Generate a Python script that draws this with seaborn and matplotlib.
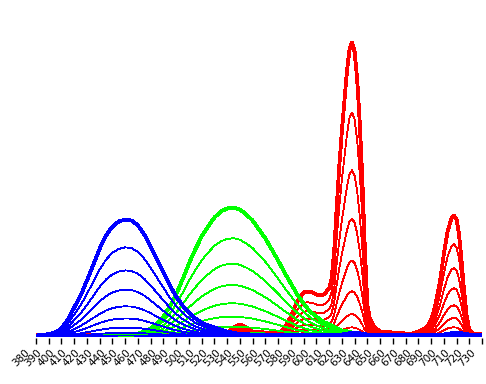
import numpy as np
import pandas as pd
import seaborn as sns
import matplotlib.pyplot as plt
from matplotlib.transforms import ScaledTranslation

# Spectra (heights in screen pixels above the baseline)
blue_nm = [380, 385, 390, 395, 400, 405, 410, 415, 420, 425, 430, 435, 440, 445, 450, 455,
           460, 465, 470, 475, 480, 485, 490, 495, 500, 505, 510, 515, 520, 525, 530, 535,
           540, 550, 560, 600, 620, 630, 640, 650, 700, 710, 720, 730]
blue_val = [1, 1.5, 2.5, 4, 8, 17, 29, 41, 56, 72, 88, 101, 110, 115, 117, 116,
            111, 102, 90, 77, 64, 51, 40, 31, 24, 18, 14, 11, 9, 7, 5, 3.5,
            2.5, 2, 1.5, 1.5, 2, 4, 2, 1.5, 2, 4, 2, 1.5]

green_nm = [380, 450, 455, 460, 465, 470, 475, 480, 485, 490, 495, 500, 505, 510, 515, 520,
            525, 530, 535, 540, 545, 550, 555, 560, 565, 570, 575, 580, 585, 590, 595, 600,
            605, 610, 615, 620, 625, 630, 635, 640, 650, 730]
green_val = [1, 1, 2, 3, 5, 8, 13, 20, 30, 42, 57, 73, 87, 100, 110, 119,
             125, 128, 129, 127, 122, 116, 107, 98, 87, 76, 64, 53, 42, 33, 25, 20,
             15, 12, 9, 6, 5, 3, 2, 1.5, 1, 1]

red_nm = [380, 450, 500, 520, 530, 535, 540, 545, 550, 560, 570, 575, 580, 585, 590, 593,
          597, 602, 606, 610, 612, 614, 616, 618, 620, 622, 624, 626, 628, 630, 632, 634,
          636, 638, 640, 642, 645, 650, 660, 670, 675, 680, 685, 688, 691, 694, 697, 700,
          703, 706, 708, 710, 712, 714, 716, 718, 720, 723, 730]
red_val = [2, 2, 2, 3, 4, 9, 12, 9, 5, 4, 3, 8, 20, 35, 44, 45,
           44, 41, 42, 48, 58, 85, 130, 170, 205, 235, 265, 287, 294, 285, 258, 215,
           160, 90, 32, 18, 10, 5, 4, 3, 3, 5, 8, 12, 20, 35, 55, 82,
           105, 118, 121, 117, 102, 75, 45, 20, 7, 3, 2]

# relative drive levels of the curves in each family
levels = [0.008, 0.031, 0.076, 0.154, 0.258, 0.40, 0.565, 0.762, 1.0]

tick_nm = list(range(380, 731, 10))

sns.set_style("white")

fig = plt.figure(figsize=(4.86, 3.84), dpi=100)
ax = fig.add_axes([36 / 486, 46 / 384, 446 / 486, 308 / 384])

families = [(red_nm, red_val, "#ff0000"),
            (green_nm, green_val, "#00ff00"),
            (blue_nm, blue_val, "#0000ff")]

for nm, val, color in families:
    for lvl in levels:
        df = pd.DataFrame({"nm": nm, "val": np.array(val) * lvl})
        sns.lineplot(data=df, x="nm", y="val", color=color,
                     lw=2.0 if lvl == 1.0 else 0.6, ax=ax, antialiased=False)

ax.set_xlim(380, 730)
ax.set_ylim(-1.5, 306.5)
ax.set_xlabel("")
ax.set_ylabel("")
ax.set_yticks([])
ax.set_xticks(tick_nm)
ax.set_xticklabels([str(t) for t in tick_nm], rotation=45, ha="right",
                   rotation_mode="anchor", fontsize=7.5, color="black")
ax.tick_params(axis="x", direction="out", length=4, width=1, color="black",
               bottom=True, pad=3)
for lbl in ax.get_xticklabels():
    lbl.set_transform(lbl.get_transform() + ScaledTranslation(-0.12, 0, fig.dpi_scale_trans))
for s in ax.spines.values():
    s.set_visible(False)

fig.savefig("out.png", dpi=100)
